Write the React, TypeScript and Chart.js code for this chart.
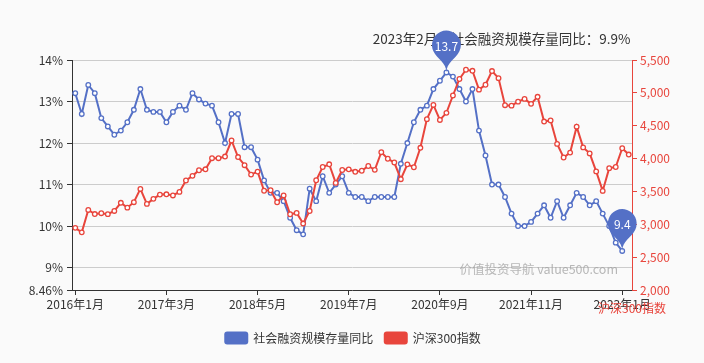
import React, { useEffect, useRef } from 'react';
import { Chart, registerables } from 'chart.js';

Chart.register(...registerables);

const FONT = '"Noto Sans CJK SC", "Noto Sans", sans-serif';
const BLUE = '#5470c6';
const RED = '#e8453c';
const TEXT = '#333333';

// Monthly categories 2016年1月 ... 2023年2月
const categories: string[] = [];
for (let y = 2016; y <= 2023; y++) {
  for (let m = 1; m <= 12; m++) {
    if (y === 2023 && m > 2) break;
    categories.push(`${y}年${m}月`);
  }
}

const xTickLabels = ['2016年1月', '2017年3月', '2018年5月', '2019年7月', '2020年9月', '2021年11月', '2023年1月'];
const leftTicks = [8.46, 9, 10, 11, 12, 13, 14];
const rightTicks = [2000, 2500, 3000, 3500, 4000, 4500, 5000, 5500];

// 社会融资规模存量同比 (%)
const socialFinancingYoY: (number | null)[] = [
  13.2, 12.7, 13.4, 13.2, 12.6, 12.4, 12.2, 12.3, 12.5, 12.8, 13.3, 12.8,
  12.75, 12.75, 12.5, 12.75, 12.9, 12.8, 13.2, 13.05, 12.95, 12.9, 12.5, 12.0,
  12.7, 12.7, 11.9, 11.9, 11.6, 11.1, 10.8, 10.8, 10.6, 10.2, 9.9, 9.8,
  10.9, 10.6, 11.2, 10.8, 11.0, 11.2, 10.8, 10.7, 10.7, 10.6, 10.7, 10.7,
  10.7, 10.7, 11.5, 12.0, 12.5, 12.8, 12.9, 13.3, 13.5, 13.7, 13.6, 13.3,
  13.0, 13.3, 12.3, 11.7, 11.0, 11.0, 10.7, 10.3, 10.0, 10.0, 10.1, 10.3,
  10.5, 10.2, 10.6, 10.2, 10.5, 10.8, 10.7, 10.5, 10.6, 10.3, 10.0, 9.6,
  9.4, null,
];

// 沪深300指数 (month-end)
const csi300: number[] = [
  2946, 2877, 3218, 3156, 3169, 3154, 3203, 3327, 3253, 3336, 3538, 3310,
  3387, 3452, 3456, 3439, 3493, 3666, 3737, 3822, 3837, 4006, 4006, 4031,
  4275, 4023, 3899, 3756, 3802, 3510, 3518, 3335, 3439, 3153, 3173, 3011,
  3202, 3670, 3872, 3913, 3630, 3826, 3836, 3799, 3815, 3887, 3828, 4097,
  3997, 3940, 3686, 3912, 3868, 4164, 4600, 4816, 4588, 4696, 4960, 5211,
  5352, 5336, 5049, 5123, 5332, 5224, 4812, 4805, 4866, 4908, 4833, 4940,
  4563, 4581, 4223, 4016, 4091, 4486, 4170, 4079, 3805, 3508, 3854, 3872,
  4157, 4061,
];

const titleText = '2023年2月，社会融资规模存量同比：9.9%';
const watermarkText = '价值投资导航 value500.com';
const series1Name = '社会融资规模存量同比';
const series2Name = '沪深300指数';

function fmtThousands(v: number): string {
  return String(v).replace(/\B(?=(\d{3})+(?!\d))/g, ',');
}

function drawPin(ctx: CanvasRenderingContext2D, x: number, y: number, size: number, color: string, text: string) {
  const w = (size / 5) * 3;
  const h = Math.max(w, size);
  const r = w / 2;
  const dy = (r * r) / (h - r);
  const cy = y - h + r + dy;
  const angle = Math.asin(dy / r);
  const dx = Math.cos(angle) * r;
  const tanX = Math.sin(angle);
  const tanY = Math.cos(angle);
  const cpLen = r * 0.6;
  const cpLen2 = r * 0.7;
  ctx.save();
  ctx.beginPath();
  ctx.moveTo(x - dx, cy + dy);
  ctx.arc(x, cy, r, Math.PI - angle, Math.PI * 2 + angle);
  ctx.bezierCurveTo(x + dx - tanX * cpLen, cy + dy + tanY * cpLen, x, y - cpLen2, x, y);
  ctx.bezierCurveTo(x, y - cpLen2, x - dx + tanX * cpLen, cy + dy + tanY * cpLen, x - dx, cy + dy);
  ctx.closePath();
  ctx.fillStyle = color;
  ctx.fill();
  ctx.fillStyle = '#ffffff';
  ctx.font = `12px ${FONT}`;
  ctx.textAlign = 'center';
  ctx.textBaseline = 'middle';
  ctx.fillText(text, x, cy + 1);
  ctx.restore();
}

function roundRect(ctx: CanvasRenderingContext2D, x: number, y: number, w: number, h: number, r: number) {
  ctx.beginPath();
  ctx.moveTo(x + r, y);
  ctx.lineTo(x + w - r, y);
  ctx.arcTo(x + w, y, x + w, y + r, r);
  ctx.lineTo(x + w, y + h - r);
  ctx.arcTo(x + w, y + h, x + w - r, y + h, r);
  ctx.lineTo(x + r, y + h);
  ctx.arcTo(x, y + h, x, y + h - r, r);
  ctx.lineTo(x, y + r);
  ctx.arcTo(x, y, x + r, y, r);
  ctx.closePath();
}

export default function App() {
  const ref = useRef<HTMLCanvasElement>(null);

  useEffect(() => {
    const canvas = ref.current;
    if (!canvas) return;

    const overlay = {
      id: 'overlay',
      beforeDatasetsDraw(chart: any) {
        const ctx: CanvasRenderingContext2D = chart.ctx;
        ctx.save();
        ctx.font = `12.5px ${FONT}`;
        ctx.fillStyle = 'rgba(160,160,160,0.75)';
        ctx.textAlign = 'right';
        ctx.textBaseline = 'middle';
        ctx.fillText(watermarkText, 618, 269);
        ctx.restore();
      },
      afterDraw(chart: any) {
        const ctx: CanvasRenderingContext2D = chart.ctx;
        const area = chart.chartArea;
        ctx.save();
        // title annotation
        ctx.font = `13.5px ${FONT}`;
        ctx.fillStyle = TEXT;
        ctx.textAlign = 'center';
        ctx.textBaseline = 'middle';
        ctx.fillText(titleText, 501.5, 38.5);

        // right axis name
        ctx.font = `12px ${FONT}`;
        ctx.fillStyle = RED;
        ctx.fillText(series2Name, area.right, 308.5);

        // legend
        ctx.font = `12px ${FONT}`;
        const w1 = ctx.measureText(series1Name).width;
        const w2 = ctx.measureText(series2Name).width;
        const boxW = 24, boxH = 13, gap = 5, itemGap = 10.5;
        const total = boxW + gap + w1 + itemGap + boxW + gap + w2;
        let lx = 352.5 - total / 2;
        const ly = 338;
        ctx.fillStyle = BLUE;
        roundRect(ctx, lx, ly - boxH / 2, boxW, boxH, 3);
        ctx.fill();
        ctx.fillStyle = TEXT;
        ctx.textAlign = 'left';
        ctx.fillText(series1Name, lx + boxW + gap, ly);
        lx += boxW + gap + w1 + itemGap;
        ctx.fillStyle = RED;
        roundRect(ctx, lx, ly - boxH / 2, boxW, boxH, 3);
        ctx.fill();
        ctx.fillStyle = TEXT;
        ctx.fillText(series2Name, lx + boxW + gap, ly);
        ctx.restore();

        // max / min pins on the blue series
        const meta = chart.getDatasetMeta(0);
        let maxI = -1, minI = -1;
        socialFinancingYoY.forEach((v, i) => {
          if (v == null) return;
          if (maxI < 0 || v > (socialFinancingYoY[maxI] as number)) maxI = i;
          if (minI < 0 || v < (socialFinancingYoY[minI] as number)) minI = i;
        });
        [maxI, minI].forEach((i) => {
          const p = meta.data[i];
          if (!p) return;
          drawPin(ctx, p.x, p.y, 48, BLUE, String(socialFinancingYoY[i]));
        });
      },
    };

    const chart = new Chart(canvas, {
      type: 'line',
      data: {
        labels: categories,
        datasets: [
          {
            label: series1Name,
            data: socialFinancingYoY,
            yAxisID: 'y',
            borderColor: BLUE,
            backgroundColor: BLUE,
            borderWidth: 2,
            pointRadius: 2.3,
            pointBorderWidth: 1.3,
            pointBackgroundColor: '#ffffff',
            pointBorderColor: BLUE,
            tension: 0,
            order: 1,
            spanGaps: false,
          },
          {
            label: series2Name,
            data: csi300,
            yAxisID: 'y1',
            borderColor: RED,
            backgroundColor: RED,
            borderWidth: 2,
            pointRadius: 2.3,
            pointBorderWidth: 1.3,
            pointBackgroundColor: '#ffffff',
            pointBorderColor: RED,
            tension: 0,
            order: 0,
          },
        ],
      },
      options: {
        responsive: false,
        animation: false,
        devicePixelRatio: 1,
        events: [],
        layout: { padding: { left: 0, right: 0, top: 60, bottom: 45 } },
        font: { family: FONT },
        plugins: {
          legend: { display: false },
          tooltip: { enabled: false },
          title: { display: false },
        },
        scales: {
          x: {
            type: 'category',
            offset: true,
            grid: {
              drawOnChartArea: false,
              offset: false,
              tickLength: 5,
              tickColor: (c: any) => (xTickLabels.includes(categories[c.index]) ? TEXT : 'rgba(0,0,0,0)'),
            },
            border: { color: TEXT, width: 1 },
            ticks: {
              autoSkip: false,
              maxRotation: 0,
              minRotation: 0,
              padding: 2,
              color: TEXT,
              font: { family: FONT, size: 12 },
              callback: (_v: any, i: number) => (xTickLabels.includes(categories[i]) ? categories[i] : ''),
            },
            afterFit: (s: any) => {
              s.height = 28;
            },
          },
          y: {
            position: 'left',
            min: 8.46,
            max: 14,
            afterBuildTicks: (s: any) => {
              s.ticks = leftTicks.map((v) => ({ value: v }));
            },
            grid: {
              color: (c: any) => (c.index === 0 ? 'rgba(0,0,0,0)' : '#cccccc'),
              tickColor: TEXT,
              tickLength: 5,
            },
            border: { color: TEXT, width: 1 },
            ticks: {
              color: TEXT,
              padding: 4,
              font: { family: FONT, size: 12 },
              callback: (v: any) => `${v}%`,
            },
            afterFit: (s: any) => {
              s.width = 72;
            },
          },
          y1: {
            position: 'right',
            min: 2000,
            max: 5500,
            afterBuildTicks: (s: any) => {
              s.ticks = rightTicks.map((v) => ({ value: v }));
            },
            grid: {
              drawOnChartArea: false,
              color: RED,
              tickColor: RED,
              tickLength: 5,
            },
            border: { color: RED, width: 1 },
            ticks: {
              color: RED,
              padding: 3,
              font: { family: FONT, size: 12 },
              callback: (v: any) => fmtThousands(Number(v)),
            },
            afterFit: (s: any) => {
              s.width = 72;
            },
          },
        },
      } as any,
      plugins: [overlay],
    });

    return () => chart.destroy();
  }, []);

  return (
    <div style={{ position: 'fixed', left: 0, top: 0, width: 704, height: 363, background: '#fafafa' }}>
      <canvas ref={ref} width={704} height={363} style={{ display: 'block', width: 704, height: 363 }} />
    </div>
  );
}
